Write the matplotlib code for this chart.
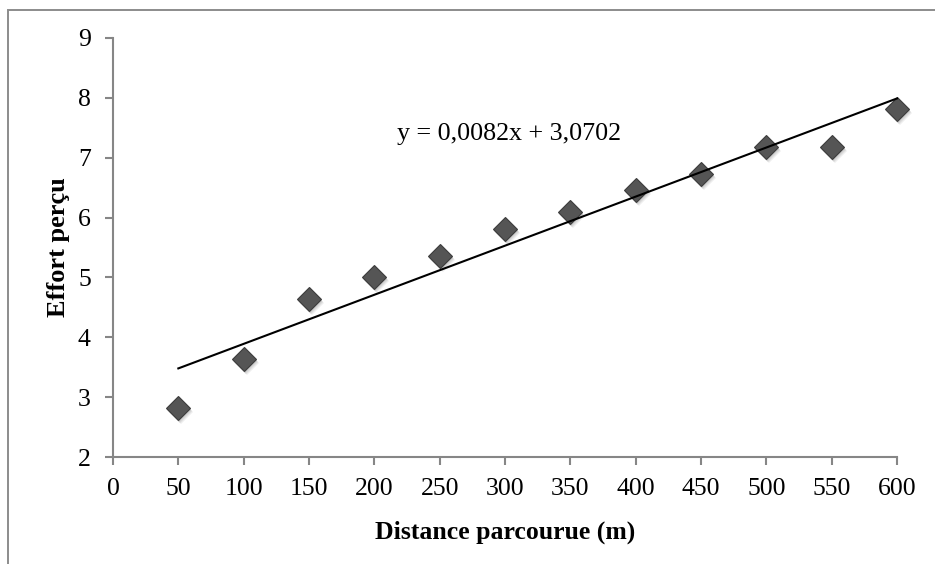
import numpy as np
import matplotlib.pyplot as plt
from matplotlib.patches import Rectangle
import matplotlib.transforms as mtransforms

plt.rcParams['font.family'] = ['Liberation Serif', 'DejaVu Serif']

# distance covered (m) and perceived effort
distance = [50, 100, 150, 200, 250, 300, 350, 400, 450, 500, 550, 600]
effort = [2.82, 3.64, 4.64, 5.00, 5.36, 5.81, 6.09, 6.46, 6.73, 7.18, 7.18, 7.82]

slope = 0.0082
intercept = 3.0702
eq_label = "y = 0,0082x + 3,0702"

x_ticks = [0, 50, 100, 150, 200, 250, 300, 350, 400, 450, 500, 550, 600]
y_ticks = [2, 3, 4, 5, 6, 7, 8, 9]

fig = plt.figure(figsize=(9.35, 5.64), dpi=100)
W, H = 935, 564
ax = fig.add_axes([113 / W, 1 - 457 / H, (897 - 113) / W, (457 - 38) / H])

# outer chart frame (runs off the right and bottom edges)
fig.patches.append(Rectangle((8 / W, -0.1), 1.2, 1 - 10 / H + 0.1,
                             transform=fig.transFigure, fill=False,
                             edgecolor='#8c8c8c', linewidth=1.4))

# soft drop shadow under the markers
for dx, dy, a in [(1, -2, 0.35), (2, -3, 0.3), (3, -4, 0.2)]:
    shadow = mtransforms.offset_copy(ax.transData, fig=fig, x=dx, y=dy, units='dots')
    ax.plot(distance, effort, linestyle='None', marker='D', markersize=12.5,
            color='#a8a8a8', alpha=a, markeredgewidth=0, transform=shadow,
            zorder=2, clip_on=False)
ax.plot(distance, effort, linestyle='None', marker='D', markersize=12.5,
        markerfacecolor='#555555', markeredgecolor='#3c3c3c',
        markeredgewidth=0.8, zorder=3, clip_on=False)

xs = np.array([distance[0], distance[-1]])
ax.plot(xs, slope * xs + intercept, color='black', linewidth=1.5, zorder=4,
        clip_on=False)
ax.text(397 / W, 1 - 134 / H, eq_label, transform=fig.transFigure,
        fontsize=18.7, va='center', ha='left')

ax.set_xlim(0, 600)
ax.set_ylim(2, 9)
ax.set_xticks(x_ticks)
ax.set_yticks(y_ticks)
for s in ['top', 'right']:
    ax.spines[s].set_visible(False)
for s in ['left', 'bottom']:
    ax.spines[s].set_color('#868686')
    ax.spines[s].set_linewidth(1.5)
ax.tick_params(direction='out', length=6, width=1.5, color='#868686',
               labelsize=18.5)
ax.tick_params(axis='x', pad=9)
ax.tick_params(axis='y', pad=10)

ax.set_xlabel('Distance parcourue (m)', fontsize=18.5, fontweight='bold', labelpad=15)
ax.set_ylabel('Effort perçu', fontsize=19, fontweight='bold', labelpad=6)

fig.savefig('out.png', dpi=100)
